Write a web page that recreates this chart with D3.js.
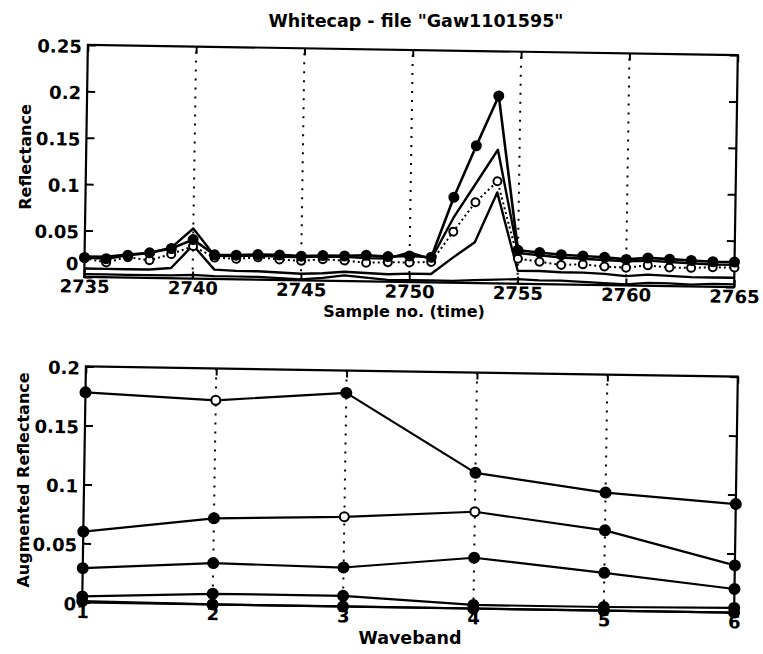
<!DOCTYPE html>
<html><head><meta charset="utf-8">
<script src="https://cdn.jsdelivr.net/npm/d3@7"></script>
<style>
body{margin:0;background:#fff}
svg{display:block}
text{font-family:"DejaVu Sans",sans-serif;font-weight:bold;fill:#000}
</style>
</head><body>
<svg id="c" width="763" height="654"></svg>
<script>
// ---------- DATA ----------
const titleText = 'Whitecap - file "Gaw1101595"';
const samples = [2735,2736,2737,2738,2739,2740,2741,2742,2743,2744,2745,2746,2747,2748,2749,2750,
                 2751,2752,2753,2754,2755,2756,2757,2758,2759,2760,2761,2762,2763,2764,2765];
const reflA = [0.021,0.020,0.024,0.027,0.032,0.042,0.026,0.026,0.027,0.027,0.026,0.027,0.027,0.028,0.027,0.028,
               0.027,0.092,0.148,0.202,0.036,0.034,0.032,0.031,0.030,0.028,0.030,0.029,0.028,0.027,0.027];
const reflB = [0.020,0.016,0.022,0.019,0.026,0.035,0.023,0.022,0.024,0.022,0.021,0.023,0.022,0.020,0.021,0.021,
               0.022,0.055,0.087,0.110,0.027,0.024,0.021,0.022,0.020,0.019,0.022,0.020,0.020,0.021,0.021];
const reflC = [0.022,0.022,0.025,0.027,0.033,0.054,0.025,0.025,0.026,0.025,0.025,0.026,0.026,0.025,0.025,0.032,
               0.025,0.070,0.107,0.144,0.033,0.031,0.029,0.028,0.027,0.026,0.027,0.026,0.025,0.024,0.024];
const reflE = [0.009,0.009,0.009,0.009,0.011,0.036,0.010,0.009,0.009,0.008,0.007,0.008,0.010,0.009,0.008,0.009,
               0.009,0.027,0.044,0.098,0.014,0.014,0.013,0.013,0.012,0.010,0.012,0.011,0.010,0.010,0.010];
const reflF = [0.003,0.003,0.003,0.003,0.003,0.004,0.003,0.003,0.003,0.002,0.001,0.003,0.006,0.004,0.002,0.002,
               0.002,0.002,0.003,0.004,0.005,0.004,0.004,0.003,0.002,0.001,0.003,0.003,0.002,0.003,0.003];
const topXTicks = [2735,2740,2745,2750,2755,2760,2765];
const topYTicks = [0,0.05,0.1,0.15,0.2,0.25];
const topXLabel = "Sample no. (time)";
const topYLabel = "Reflectance";

const wavebands = [1,2,3,4,5,6];
const augA = [0.178,0.173,0.181,0.115,0.100,0.092];
const augB = [0.060,0.073,0.076,0.082,0.068,0.040];
const augC = [0.029,0.035,0.033,0.043,0.032,0.020];
const augD = [0.005,0.009,0.009,0.003,0.003,0.004];
const augE = [0.001,0.000,0.000,0.000,0.000,0.000];
const augOpen = [[1],[2,3],[],[],[]];   // indices of hollow markers per series
const botYTicks = [0,0.05,0.1,0.15,0.2];
const botXLabel = "Waveband";
const botYLabel = "Augmented Reflectance";

// ---------- DRAW ----------
const svg = d3.select('#c');
svg.append('rect').attr('width',763).attr('height',654).attr('fill','#fff');

function panel(cfg){
  const g = svg.append('g')
    .attr('transform', `rotate(${cfg.angle},${(cfg.x0+cfg.x1)/2},${(cfg.y0+cfg.y1)/2})`);
  const x = d3.scaleLinear().domain(cfg.xDomain).range([cfg.x0,cfg.x1]);
  const y = d3.scaleLinear().domain(cfg.yDomain).range([cfg.y1,cfg.y0]);
  // grid
  g.append('g').selectAll('line').data(cfg.grid).join('line')
    .attr('x1',d=>x(d)).attr('x2',d=>x(d)).attr('y1',cfg.y1).attr('y2',cfg.y0)
    .attr('stroke','#000').attr('stroke-width',2).attr('stroke-dasharray','2,7');
  const fmt = d=>String(d);
  const styleAxis = sel=>{ sel.select('.domain').remove();
    sel.selectAll('.tick line').attr('stroke','#000').attr('stroke-width',2);
    sel.selectAll('.tick text').attr('font-size',cfg.tickFont).attr('fill','#000')
       .attr('font-family','"DejaVu Sans",sans-serif').attr('font-weight','bold'); };
  g.append('g').attr('transform',`translate(0,${cfg.y1})`)
    .call(d3.axisBottom(x).tickValues(cfg.xTicks).tickFormat(fmt).tickSizeInner(-7).tickSizeOuter(0).tickPadding(cfg.xPad))
    .call(styleAxis);
  g.append('g').attr('transform',`translate(0,${cfg.y0})`)
    .call(d3.axisTop(x).tickValues(cfg.xTicks).tickFormat('').tickSizeInner(-7).tickSizeOuter(0))
    .call(styleAxis);
  g.append('g').attr('transform',`translate(${cfg.x0},0)`)
    .call(d3.axisLeft(y).tickValues(cfg.yTicks).tickFormat(fmt).tickSizeInner(-8).tickSizeOuter(0).tickPadding(6))
    .call(styleAxis)
    .selectAll('.tick text').attr('dy',d=>d===0?cfg.zeroDy:'0.42em');
  g.append('g').attr('transform',`translate(${cfg.x1},0)`)
    .call(d3.axisRight(y).tickValues(cfg.yTicks).tickFormat('').tickSizeInner(-8).tickSizeOuter(0))
    .call(styleAxis);
  g.append('rect').attr('x',cfg.x0).attr('y',cfg.y0).attr('width',cfg.x1-cfg.x0).attr('height',cfg.y1-cfg.y0)
    .attr('fill','none').attr('stroke','#000').attr('stroke-width',2.2);
  return {g,x,y};
}

// Top panel
const P1 = panel({x0:86,x1:736,y0:50,y1:282,angle:0.9,xDomain:[2735,2765],yDomain:[0,0.25],
  xTicks:topXTicks,yTicks:topYTicks,grid:topXTicks.slice(1,-1),tickFont:18,xPad:3,zeroDy:'-0.4em'});
const topSeries = [
  {v:reflF,w:2.2,dash:null,marker:null},
  {v:reflE,w:2.4,dash:null,marker:null},
  {v:reflC,w:2.4,dash:null,marker:null},
  {v:reflB,w:2,dash:'2,3',marker:'open'},
  {v:reflA,w:2.6,dash:null,marker:'fill'}
];
topSeries.forEach(s=>{
  const pts = samples.map((t,i)=>[t,s.v[i]]);
  P1.g.append('path').datum(pts)
    .attr('d',d3.line().x(d=>P1.x(d[0])).y(d=>P1.y(d[1])))
    .attr('fill','none').attr('stroke','#000').attr('stroke-width',s.w)
    .attr('stroke-linejoin','round').attr('stroke-dasharray',s.dash);
});
topSeries.forEach(s=>{
  if(!s.marker) return;
  const pts = samples.map((t,i)=>[t,s.v[i]]);
  P1.g.append('g').selectAll('circle').data(pts).join('circle')
    .attr('cx',d=>P1.x(d[0])).attr('cy',d=>P1.y(d[1]))
    .attr('r',s.marker==='fill'?4.5:4)
    .attr('fill',s.marker==='fill'?'#000':'#fff')
    .attr('stroke','#000').attr('stroke-width',2);
});

// Bottom panel
const P2 = panel({x0:84,x1:736,y0:371.5,y1:607.5,angle:0.9,xDomain:[1,6],yDomain:[0,0.2],
  xTicks:wavebands,yTicks:botYTicks,grid:wavebands.slice(1,-1),tickFont:18,xPad:3,zeroDy:'0.42em'});
const botSeries = [augE,augD,augC,augB,augA];
const botOpen = [augOpen[4],augOpen[3],augOpen[2],augOpen[1],augOpen[0]];
botSeries.forEach((v,k)=>{
  const pts = wavebands.map((b,i)=>[b,v[i],botOpen[k].includes(i)]);
  P2.g.append('path').datum(pts)
    .attr('d',d3.line().x(d=>P2.x(d[0])).y(d=>P2.y(d[1])))
    .attr('fill','none').attr('stroke','#000').attr('stroke-width',2.2).attr('stroke-linejoin','round');
  P2.g.append('g').selectAll('circle').data(pts).join('circle')
    .attr('cx',d=>P2.x(d[0])).attr('cy',d=>P2.y(d[1]))
    .attr('r',d=>d[2]?4.5:5)
    .attr('fill',d=>d[2]?'#fff':'#000')
    .attr('stroke','#000').attr('stroke-width',2);
});

// Titles / labels
svg.append('text').attr('x',416).attr('y',27).attr('text-anchor','middle')
  .attr('font-size',17.5).text(titleText);
svg.append('text').attr('x',404).attr('y',317).attr('text-anchor','middle')
  .attr('font-size',16).text(topXLabel);
svg.append('text').attr('transform','translate(31,157) rotate(-90)').attr('text-anchor','middle')
  .attr('font-size',16).text(topYLabel);
svg.append('text').attr('x',410).attr('y',644).attr('text-anchor','middle')
  .attr('font-size',17.5).text(botXLabel);
svg.append('text').attr('transform','translate(29,480) rotate(-90)').attr('text-anchor','middle')
  .attr('font-size',16).text(botYLabel);
</script>
</body></html>
